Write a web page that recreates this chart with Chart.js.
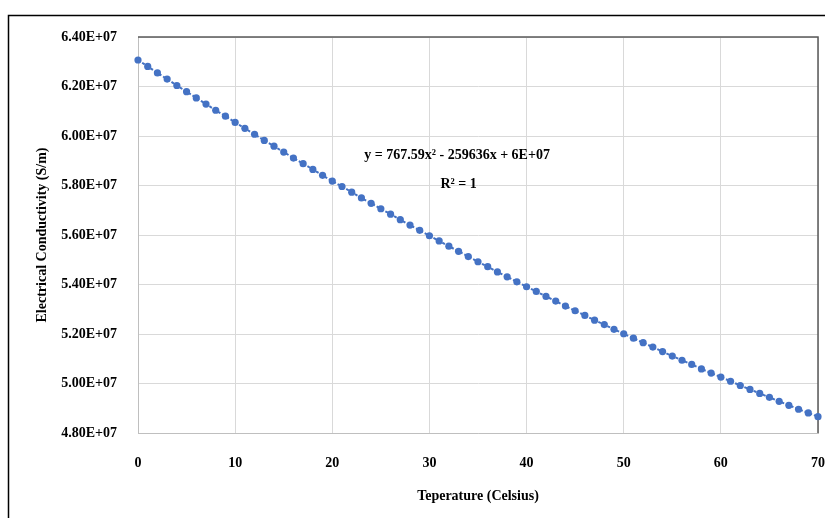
<!DOCTYPE html>
<html>
<head>
<meta charset="utf-8">
<script src="https://cdn.jsdelivr.net/npm/chart.js@4/dist/chart.umd.min.js"></script>
<style>
  html, body { margin: 0; padding: 0; background: #fff; }
  #wrap { width: 825px; height: 518px; }
</style>
</head>
<body>
<div id="wrap"><canvas id="condChart"></canvas></div>
<script>
/* ---- Data ---- */
const temperature = [
  0, 1, 2, 3, 4, 5, 6, 7, 8, 9,
  10, 11, 12, 13, 14, 15, 16, 17, 18, 19,
  20, 21, 22, 23, 24, 25, 26, 27, 28, 29,
  30, 31, 32, 33, 34, 35, 36, 37, 38, 39,
  40, 41, 42, 43, 44, 45, 46, 47, 48, 49,
  50, 51, 52, 53, 54, 55, 56, 57, 58, 59,
  60, 61, 62, 63, 64, 65, 66, 67, 68, 69,
  70
];

// conductivity in S/m
const conductivity = [
  6.307e7, 6.281e7, 6.255e7, 6.230e7, 6.204e7, 6.179e7, 6.154e7, 6.129e7, 6.104e7, 6.080e7,
  6.055e7, 6.031e7, 6.007e7, 5.982e7, 5.959e7, 5.935e7, 5.911e7, 5.888e7, 5.865e7, 5.841e7,
  5.818e7, 5.796e7, 5.773e7, 5.750e7, 5.728e7, 5.706e7, 5.684e7, 5.662e7, 5.640e7, 5.619e7,
  5.597e7, 5.576e7, 5.555e7, 5.534e7, 5.513e7, 5.492e7, 5.472e7, 5.451e7, 5.431e7, 5.411e7,
  5.391e7, 5.372e7, 5.352e7, 5.333e7, 5.313e7, 5.294e7, 5.275e7, 5.256e7, 5.238e7, 5.219e7,
  5.201e7, 5.183e7, 5.165e7, 5.147e7, 5.129e7, 5.111e7, 5.094e7, 5.077e7, 5.059e7, 5.042e7,
  5.026e7, 5.009e7, 4.992e7, 4.976e7, 4.960e7, 4.944e7, 4.928e7, 4.912e7, 4.896e7, 4.881e7,
  4.866e7
];

const xTicks = [0, 10, 20, 30, 40, 50, 60, 70];
const yTicks = [4.8e7, 5.0e7, 5.2e7, 5.4e7, 5.6e7, 5.8e7, 6.0e7, 6.2e7, 6.4e7];

const trendText = "y = 767.59x\u00B2 - 259636x + 6E+07";
const r2Text = "R\u00B2 = 1";

const points = temperature.map((t, i) => ({ x: t, y: conductivity[i] }));

const SERIF = "'Liberation Serif', 'Times New Roman', serif";
const BLUE = "#4472C4";

/* ---- Frame, plot border and trendline label ---- */
const decor = {
  id: "decor",
  beforeDraw(chart) {
    const ctx = chart.ctx;
    ctx.save();
    ctx.fillStyle = "#fff";
    ctx.fillRect(0, 0, chart.width, chart.height);
    ctx.strokeStyle = "#000";
    ctx.lineWidth = 1.5;
    ctx.beginPath();
    ctx.moveTo(8.5, chart.height + 2);
    ctx.lineTo(8.5, 15.5);
    ctx.lineTo(chart.width + 2, 15.5);
    ctx.stroke();
    ctx.restore();
  },
  beforeDatasetsDraw(chart) {
    const { ctx, chartArea: a } = chart;
    ctx.save();
    ctx.strokeStyle = "#595959";
    ctx.lineWidth = 1.5;
    ctx.beginPath();
    ctx.moveTo(a.left, a.top);
    ctx.lineTo(a.right, a.top);
    ctx.lineTo(a.right, a.bottom);
    ctx.stroke();
    ctx.restore();
  },
  afterDraw(chart) {
    const { ctx, scales } = chart;
    ctx.save();
    ctx.fillStyle = "#000";
    ctx.font = "bold 14px " + SERIF;
    ctx.textAlign = "center";
    ctx.textBaseline = "middle";
    ctx.fillText(trendText, scales.x.getPixelForValue(32.85), scales.y.getPixelForValue(5.923e7));
    ctx.fillText(r2Text, scales.x.getPixelForValue(33.0), scales.y.getPixelForValue(5.805e7));
    ctx.restore();
  }
};

new Chart(document.getElementById("condChart"), {
  type: "scatter",
  data: {
    datasets: [
      {
        label: "Conductivity",
        data: points,
        backgroundColor: BLUE,
        borderColor: BLUE,
        pointRadius: 3.6,
        pointHoverRadius: 3.6,
        borderWidth: 0,
        clip: false,
        order: 1
      },
      {
        label: "Poly. trend",
        data: points,
        showLine: true,
        borderColor: BLUE,
        borderWidth: 2,
        borderDash: [3, 2],
        pointRadius: 0,
        clip: false,
        order: 2
      }
    ]
  },
  options: {
    responsive: true,
    maintainAspectRatio: false,
    animation: false,
    events: [],
    layout: { padding: { top: 37, right: 7, left: 0, bottom: 0 } },
    plugins: {
      legend: { display: false },
      tooltip: { enabled: false }
    },
    scales: {
      x: {
        type: "linear",
        min: 0,
        max: 70,
        afterBuildTicks: (s) => { s.ticks = xTicks.map(v => ({ value: v })); },
        afterFit: (s) => { s.height = 85; s.paddingLeft = 0; s.paddingRight = 0; },
        grid: { color: "#d9d9d9", lineWidth: 1, drawTicks: false },
        border: { color: "#bfbfbf", width: 1 },
        ticks: {
          padding: 22,
          color: "#000",
          font: { family: SERIF, size: 14, weight: "bold" }
        },
        title: {
          display: true,
          text: "Teperature (Celsius)",
          color: "#000",
          font: { family: SERIF, size: 14, weight: "bold" },
          padding: { top: 0, bottom: 13.6 }
        }
      },
      y: {
        type: "linear",
        min: 4.8e7,
        max: 6.4e7,
        afterBuildTicks: (s) => { s.ticks = yTicks.map(v => ({ value: v })); },
        afterFit: (s) => { s.width = 138; s.paddingTop = 0; s.paddingBottom = 0; },
        grid: { color: "#d9d9d9", lineWidth: 1, drawTicks: false },
        border: { color: "#bfbfbf", width: 1 },
        ticks: {
          padding: 21,
          color: "#000",
          font: { family: SERIF, size: 14, weight: "bold" },
          callback: (v) => (v / 1e7).toFixed(2) + "E+07"
        },
        title: {
          display: true,
          text: "Electrical Conductivity (S/m)",
          color: "#000",
          font: { family: SERIF, size: 14, weight: "bold" },
          padding: { top: 33.6, bottom: 0 }
        }
      }
    }
  },
  plugins: [decor]
});
</script>
</body>
</html>
